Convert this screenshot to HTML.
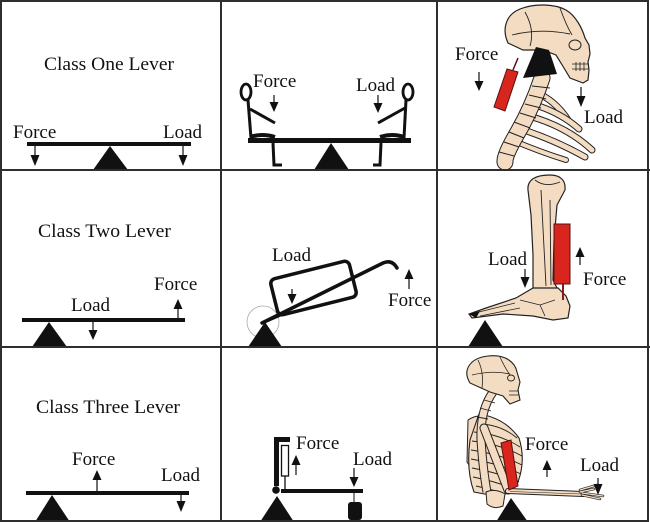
<!DOCTYPE html>
<html><head><meta charset="utf-8"><style>
html,body{margin:0;padding:0;background:#fff;}
svg{display:block;}
text{font-family:"Liberation Serif","Times New Roman",serif;font-size:19px;fill:#111;}
</style></head><body>
<svg width="650" height="522" viewBox="0 0 650 522" xmlns="http://www.w3.org/2000/svg">
<defs>
<g id="ad"><line x1="0" y1="0" x2="0" y2="1" stroke="#111" stroke-width="1.2"/></g>
</defs>
<rect x="0" y="0" width="650" height="522" fill="#fff"/>

<!-- ===== Cell 1 ===== -->
<text x="44" y="70" textLength="130" lengthAdjust="spacingAndGlyphs">Class One Lever</text>
<text x="13" y="138">Force</text>
<text x="163" y="138">Load</text>
<rect x="27" y="142" width="164" height="4" fill="#111"/>
<polygon points="93,170 110,146 128,170" fill="#111"/>
<line x1="35" y1="146" x2="35" y2="156" stroke="#111" stroke-width="1.2"/>
<polygon points="30.5,155 39.5,155 35,166" fill="#111"/>
<line x1="183" y1="146" x2="183" y2="156" stroke="#111" stroke-width="1.2"/>
<polygon points="178.5,155 187.5,155 183,166" fill="#111"/>

<!-- ===== Cell 2 ===== -->
<text x="253" y="87">Force</text>
<text x="356" y="91">Load</text>
<rect x="248" y="138" width="163" height="5" fill="#111"/>
<polygon points="314,170 331,143 349,170" fill="#111"/>
<!-- left figure -->
<ellipse cx="246" cy="92" rx="5" ry="8" fill="none" stroke="#111" stroke-width="2.8"/>
<line x1="248" y1="100" x2="251" y2="138" stroke="#111" stroke-width="3"/>
<line x1="250" y1="109" x2="275" y2="123" stroke="#111" stroke-width="3"/>
<path d="M250,137 Q262,133 275,137" stroke="#111" stroke-width="4" fill="none"/>
<path d="M273,143 L274,165 L282,165" stroke="#111" stroke-width="3" fill="none"/>
<!-- right figure -->
<ellipse cx="408" cy="92" rx="5" ry="8" fill="none" stroke="#111" stroke-width="2.8"/>
<line x1="406" y1="100" x2="404" y2="138" stroke="#111" stroke-width="3"/>
<line x1="405" y1="108" x2="378" y2="123" stroke="#111" stroke-width="3"/>
<path d="M404,137 Q392,133 380,137" stroke="#111" stroke-width="4" fill="none"/>
<path d="M381,143 L380,165 L373,165" stroke="#111" stroke-width="3" fill="none"/>
<line x1="274" y1="95" x2="274" y2="103" stroke="#111" stroke-width="1.2"/>
<polygon points="269.5,102 278.5,102 274,112" fill="#111"/>
<line x1="378" y1="95" x2="378" y2="104" stroke="#111" stroke-width="1.2"/>
<polygon points="373.5,103 382.5,103 378,113" fill="#111"/>

<!-- ===== Cell 3 (skull & neck) ===== -->
<g stroke-linecap="round" fill="none">
  <!-- ribs -->
  <path d="M535,92 Q555,100 568,120" stroke="#222" stroke-width="7"/>
  <path d="M535,92 Q555,100 568,120" stroke="#f4dcc2" stroke-width="5"/>
  <path d="M532,104 Q560,112 579,129" stroke="#222" stroke-width="7"/>
  <path d="M532,104 Q560,112 579,129" stroke="#f4dcc2" stroke-width="5"/>
  <path d="M525,115 Q565,125 592,150" stroke="#222" stroke-width="7"/>
  <path d="M525,115 Q565,125 592,150" stroke="#f4dcc2" stroke-width="5"/>
  <path d="M518,128 Q555,140 585,157" stroke="#222" stroke-width="7"/>
  <path d="M518,128 Q555,140 585,157" stroke="#f4dcc2" stroke-width="5"/>
  <path d="M512,140 Q540,152 566,160" stroke="#222" stroke-width="6"/>
  <path d="M512,140 Q540,152 566,160" stroke="#f4dcc2" stroke-width="4"/>
  <!-- spine -->
  <path d="M542,78 Q532,108 518,132 T505,162" stroke="#222" stroke-width="17"/>
  <path d="M542,78 Q532,108 518,132 T505,162" stroke="#f4dcc2" stroke-width="15"/>
</g>
<g stroke="#222" stroke-width="1">
  <line x1="532" y1="86" x2="550" y2="88"/><line x1="529" y1="95" x2="546" y2="99"/>
  <line x1="525" y1="104" x2="541" y2="108"/><line x1="520" y1="113" x2="536" y2="118"/>
  <line x1="514" y1="122" x2="530" y2="128"/><line x1="509" y1="132" x2="524" y2="138"/>
  <line x1="504" y1="142" x2="519" y2="147"/><line x1="499" y1="152" x2="514" y2="156"/>
</g>
<!-- cranium -->
<path d="M508,43 C502,30 505,15 520,9 C535,3 555,4 566,10 C576,16 582,28 585,38 L589,45 L590,54 L588,62 L589,70 L588,80 L583,83 L570,78 L564,68 L556,55 L543,50 L523,50 Z" fill="#f4dcc2" stroke="#222" stroke-width="1.2"/>
<path d="M525,12 Q535,30 530,46 M560,8 Q566,25 572,35 M512,35 Q540,28 570,34" stroke="#222" stroke-width="0.9" fill="none"/>
<ellipse cx="575" cy="45" rx="6" ry="5" fill="none" stroke="#222" stroke-width="1"/>
<path d="M572,64 L589,64 M572,69 L589,69 M576,62 L576,71 M580,62 L580,71 M584,62 L584,71" stroke="#222" stroke-width="0.8"/>
<polygon points="536,47 549,50 557,74 523,78" fill="#111"/>
<!-- muscle -->
<line x1="513" y1="70" x2="518" y2="58" stroke="#5a1010" stroke-width="1.5"/>
<polygon points="507,69 518,72 505,111 494,107" fill="#d8261e" stroke="#5a1010" stroke-width="1"/>
<text x="455" y="60">Force</text>
<text x="584" y="123">Load</text>
<line x1="479" y1="72" x2="479" y2="82" stroke="#111" stroke-width="1.2"/>
<polygon points="474.5,81 483.5,81 479,91" fill="#111"/>
<line x1="581" y1="87" x2="581" y2="97" stroke="#111" stroke-width="1.2"/>
<polygon points="576.5,96 585.5,96 581,107" fill="#111"/>

<!-- ===== Cell 4 ===== -->
<text x="38" y="237" textLength="133" lengthAdjust="spacingAndGlyphs">Class Two Lever</text>
<text x="71" y="311">Load</text>
<text x="154" y="290">Force</text>
<rect x="22" y="318" width="163" height="4" fill="#111"/>
<polygon points="32,347 49,322 67,347" fill="#111"/>
<line x1="93" y1="322" x2="93" y2="331" stroke="#111" stroke-width="1.2"/>
<polygon points="88.5,330 97.5,330 93,340" fill="#111"/>
<line x1="178" y1="318" x2="178" y2="308" stroke="#111" stroke-width="1.2"/>
<polygon points="173.5,309 182.5,309 178,299" fill="#111"/>

<!-- ===== Cell 5 (wheelbarrow) ===== -->
<circle cx="263" cy="322" r="16" fill="none" stroke="#aaa" stroke-width="0.8"/>
<rect x="-40.5" y="-18.5" width="81" height="37" rx="5" fill="none" stroke="#111" stroke-width="3.5" transform="translate(313.5,288) rotate(-14)"/>
<path d="M262,323 L383,263 Q392,259 397,268" fill="none" stroke="#111" stroke-width="3.5" stroke-linecap="round"/>
<line x1="262" y1="323" x2="283" y2="314" stroke="#111" stroke-width="3"/>
<polygon points="248,347 265,322 282,347" fill="#111"/>
<text x="272" y="261">Load</text>
<text x="388" y="306">Force</text>
<line x1="292" y1="289" x2="292" y2="295" stroke="#111" stroke-width="1.2"/>
<polygon points="287.5,294 296.5,294 292,304" fill="#111"/>
<line x1="409" y1="289" x2="409" y2="278" stroke="#111" stroke-width="1.2"/>
<polygon points="404.5,279 413.5,279 409,269" fill="#111"/>

<!-- ===== Cell 6 (leg) ===== -->
<path d="M528,190 C527,180 535,175 550,175 C560,175 566,180 565,190 L557,205 L554,240 L553,280 L558,290 L533,290 L533,255 L531,215 Z" fill="#f4dcc2" stroke="#222" stroke-width="1.2"/>
<path d="M541,190 L546,286 M550,200 L551,285 M535,180 Q545,188 560,182" stroke="#222" stroke-width="0.9" fill="none"/>
<path d="M533,288 L558,288 L566,296 L570,306 L568,318 L553,320 L533,316 L503,314 L472,318 L469,314 L486,308 L516,298 Z" fill="#f4dcc2" stroke="#222" stroke-width="1.2"/>
<path d="M475,313 L515,303 M480,316 L520,308 M520,300 L540,305 L555,300 M540,305 L545,316" stroke="#222" stroke-width="0.8" fill="none"/>
<polygon points="469,314 480,311 476,318" fill="#111"/>
<line x1="563" y1="283" x2="563" y2="300" stroke="#8b1a1a" stroke-width="2"/>
<rect x="554" y="224" width="16" height="60" fill="#d8261e" stroke="#5a1010" stroke-width="1"/>
<polygon points="468,347 485,320 503,347" fill="#111"/>
<text x="488" y="265">Load</text>
<text x="583" y="285">Force</text>
<line x1="525" y1="269" x2="525" y2="278" stroke="#111" stroke-width="1.2"/>
<polygon points="520.5,277 529.5,277 525,288" fill="#111"/>
<line x1="580" y1="265" x2="580" y2="256" stroke="#111" stroke-width="1.2"/>
<polygon points="575.5,257 584.5,257 580,247" fill="#111"/>

<!-- ===== Cell 7 ===== -->
<text x="36" y="413" textLength="144" lengthAdjust="spacingAndGlyphs">Class Three Lever</text>
<text x="72" y="465">Force</text>
<text x="161" y="481">Load</text>
<rect x="26" y="491" width="163" height="4" fill="#111"/>
<polygon points="35,522 52,495 70,522" fill="#111"/>
<line x1="97" y1="491" x2="97" y2="479" stroke="#111" stroke-width="1.2"/>
<polygon points="92.5,480 101.5,480 97,470" fill="#111"/>
<line x1="181" y1="495" x2="181" y2="502" stroke="#111" stroke-width="1.2"/>
<polygon points="176.5,501 185.5,501 181,512" fill="#111"/>

<!-- ===== Cell 8 ===== -->
<rect x="274" y="437" width="5" height="49" fill="#111"/>
<rect x="274" y="437" width="16" height="5" fill="#111"/>
<rect x="281.5" y="445.5" width="7" height="30.5" fill="#fff" stroke="#111" stroke-width="1.3"/>
<line x1="285" y1="476" x2="285" y2="490" stroke="#111" stroke-width="1.3"/>
<rect x="281" y="489" width="82" height="4" fill="#111"/>
<circle cx="276" cy="490" r="3.8" fill="#111"/>
<line x1="354" y1="492" x2="354" y2="503" stroke="#111" stroke-width="1"/>
<rect x="348" y="502" width="14" height="18" rx="3" fill="#111"/>
<polygon points="260,522 277,496 294,522" fill="#111"/>
<text x="296" y="449">Force</text>
<text x="353" y="465">Load</text>
<line x1="296" y1="475" x2="296" y2="464" stroke="#111" stroke-width="1.2"/>
<polygon points="291.5,465 300.5,465 296,455" fill="#111"/>
<line x1="354" y1="468" x2="354" y2="478" stroke="#111" stroke-width="1.2"/>
<polygon points="349.5,477 358.5,477 354,487" fill="#111"/>

<!-- ===== Cell 9 (upper body) ===== -->
<!-- scapula / shoulder -->
<path d="M468,420 Q480,412 490,420 L488,470 Q475,475 467,462 Z" fill="#f4dcc2" stroke="#222" stroke-width="1"/>
<!-- ribcage -->
<path d="M479,414 Q505,418 519,438 Q526,460 518,482 Q510,496 495,496 L474,492 Q466,470 470,440 Z" fill="#f4dcc2" stroke="#222" stroke-width="1.1"/>
<g stroke="#222" stroke-width="0.9" fill="none">
  <path d="M478,424 Q500,424 517,438"/><path d="M474,432 Q500,434 520,447"/>
  <path d="M472,441 Q500,444 522,456"/><path d="M471,450 Q500,454 522,465"/>
  <path d="M471,459 Q500,464 521,474"/><path d="M472,468 Q500,473 519,482"/>
  <path d="M473,477 Q498,482 514,489"/><path d="M476,486 Q494,490 505,494"/>
</g>
<!-- spine -->
<path d="M493,392 Q480,410 481,440 Q483,470 487,492" stroke="#222" stroke-width="9" fill="none"/>
<path d="M493,392 Q480,410 481,440 Q483,470 487,492" stroke="#f4dcc2" stroke-width="7" fill="none"/>
<g stroke="#222" stroke-width="0.9">
  <line x1="484" y1="400" x2="495" y2="403"/><line x1="480" y1="408" x2="491" y2="411"/>
  <line x1="477" y1="417" x2="488" y2="419"/>
</g>
<!-- pelvis -->
<path d="M486,492 Q495,488 505,494 L503,506 Q494,510 487,504 Z" fill="#f4dcc2" stroke="#222" stroke-width="1"/>
<!-- humerus -->
<path d="M484,428 L508,490" stroke="#222" stroke-width="9" stroke-linecap="round"/>
<path d="M484,428 L508,490" stroke="#f4dcc2" stroke-width="7" stroke-linecap="round"/>
<!-- forearm -->
<path d="M508,491 L583,494" stroke="#222" stroke-width="6" stroke-linecap="round"/>
<path d="M508,491 L583,494" stroke="#f4dcc2" stroke-width="4" stroke-linecap="round"/>
<line x1="510" y1="491.5" x2="582" y2="494" stroke="#222" stroke-width="0.6"/>
<!-- hand -->
<path d="M580,490 L597,485 M582,493 L603,496 M582,495 L600,499 M580,492 L594,489" stroke="#222" stroke-width="2.5" stroke-linecap="round"/>
<path d="M580,490 L597,485 M582,493 L603,496 M582,495 L600,499 M580,492 L594,489" stroke="#f4dcc2" stroke-width="1.2" stroke-linecap="round"/>
<!-- muscle -->
<polygon points="501,443 511,440 518,486 509,490" fill="#d8261e" stroke="#5a1010" stroke-width="1"/>
<!-- skull -->
<path d="M470,383 C462,370 470,358 488,356 C505,354 515,362 517,372 L520,382 L518,390 L520,400 L510,404 L503,396 L490,392 Z" fill="#f4dcc2" stroke="#222" stroke-width="1.1"/>
<path d="M478,360 Q484,372 482,388 M500,357 Q505,368 510,375 M472,375 Q492,370 510,374" stroke="#222" stroke-width="0.8" fill="none"/>
<ellipse cx="511" cy="378" rx="3.5" ry="3" fill="none" stroke="#222" stroke-width="0.9"/>
<path d="M509,391 L519,391 M509,395 L519,395" stroke="#222" stroke-width="0.7"/>
<polygon points="496,522 511,498 528,522" fill="#111"/>
<text x="525" y="450">Force</text>
<text x="580" y="471">Load</text>
<line x1="547" y1="477" x2="547" y2="469" stroke="#111" stroke-width="1.2"/>
<polygon points="542.5,470 551.5,470 547,460" fill="#111"/>
<line x1="598" y1="478" x2="598" y2="485" stroke="#111" stroke-width="1.2"/>
<polygon points="593.5,484 602.5,484 598,495" fill="#111"/>

<!-- ===== Grid ===== -->
<g stroke="#2e2e2e" stroke-width="2" fill="none">
  <line x1="221" y1="0" x2="221" y2="522"/>
  <line x1="437" y1="0" x2="437" y2="522"/>
  <line x1="0" y1="170" x2="650" y2="170"/>
  <line x1="0" y1="347" x2="650" y2="347"/>
  <rect x="1" y="1" width="647" height="520"/>
</g>
</svg>
</body></html>
